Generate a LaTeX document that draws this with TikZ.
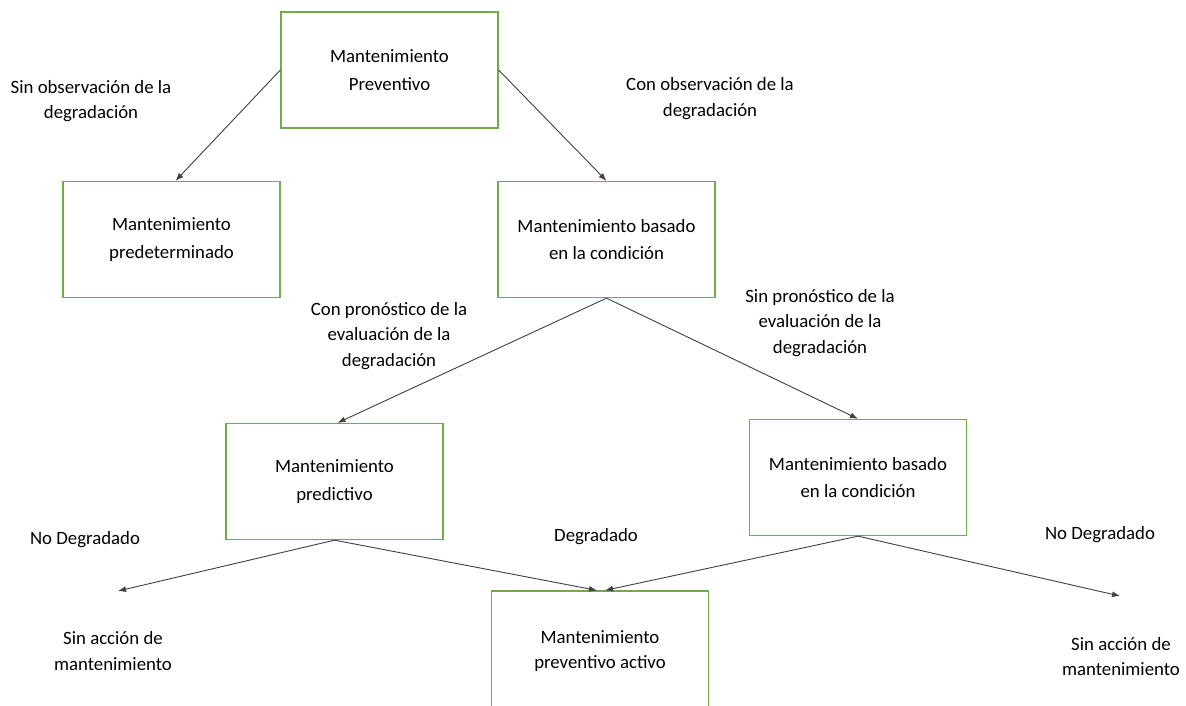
\documentclass[tikz,border=0pt]{standalone}
\usepackage{fontspec}
\setmainfont{Carlito}
\usetikzlibrary{arrows.meta}
\definecolor{boxgreen}{HTML}{70AD47}
\definecolor{linegray}{HTML}{404040}
\begin{document}
\begin{tikzpicture}[x=1pt,y=-1pt,
  box/.style={draw=boxgreen,line width=1.3pt,minimum width=217pt,minimum height=116pt,
    align=center,font=\fontsize{18.8}{27.5}\selectfont,inner sep=0pt},
  lbl/.style={align=center,font=\fontsize{18.8}{25.5}\selectfont,inner sep=0pt},
  conn/.style={draw=linegray,line width=0.9pt,-{Latex[length=8pt,width=6pt]}}]
\clip (0,0) rectangle (1186,705);
\fill[white] (0,0) rectangle (1186,705);
% boxes
\node[box] (top) at (389.5,70) {Mantenimiento\\Preventivo};
\node[box] (pre) at (171.5,239.5) {Mantenimiento\\predeterminado};
\node[box] (cond) at (606.5,239.5) {Mantenimiento basado\\en la condición};
\node[box] (pred) at (334.5,481.5) {Mantenimiento\\predictivo};
\node[box] (cond2) at (858,477.5) {Mantenimiento basado\\en la condición};
\node[box] (act) at (600,649) {};
\node[lbl] (actt) at (600,651) {Mantenimiento\\preventivo activo};
% labels
\node[lbl] (l1) at (91,101) {Sin observación de la\\degradación};
\node[lbl] (l2) at (710,98.5) {Con observación de la\\degradación};
\node[lbl] (l3) at (389,336) {Con pronóstico de la\\evaluación de la\\degradación};
\node[lbl] (l4) at (820,323) {Sin pronóstico de la\\evaluación de la\\degradación};
\node[lbl] (l5) at (85,540) {No Degradado};
\node[lbl] (l6) at (596,537) {Degradado};
\node[lbl] (l7) at (1100,535) {No Degradado};
\node[lbl] (l8) at (113,651) {Sin acción de\\mantenimiento};
\node[lbl] (l9) at (1121,656.5) {Sin acción de\\mantenimiento};
% free ends
\coordinate (sinL) at (118,591);
\coordinate (sinR) at (1120,596);
% connectors
\draw[conn] (top.west) -- ([xshift=4pt]pre.north);
\draw[conn] (top.east) -- (cond.north);
\draw[conn] (cond.south) -- ([xshift=3pt]pred.north);
\draw[conn] (cond.south) -- (cond2.north);
\draw[conn] (pred.south) -- (sinL);
\draw[conn] (pred.south) -- ([xshift=-3pt]act.north);
\draw[conn] (cond2.south) -- ([xshift=5pt]act.north);
\draw[conn] (cond2.south) -- (sinR);
\end{tikzpicture}
\end{document}
